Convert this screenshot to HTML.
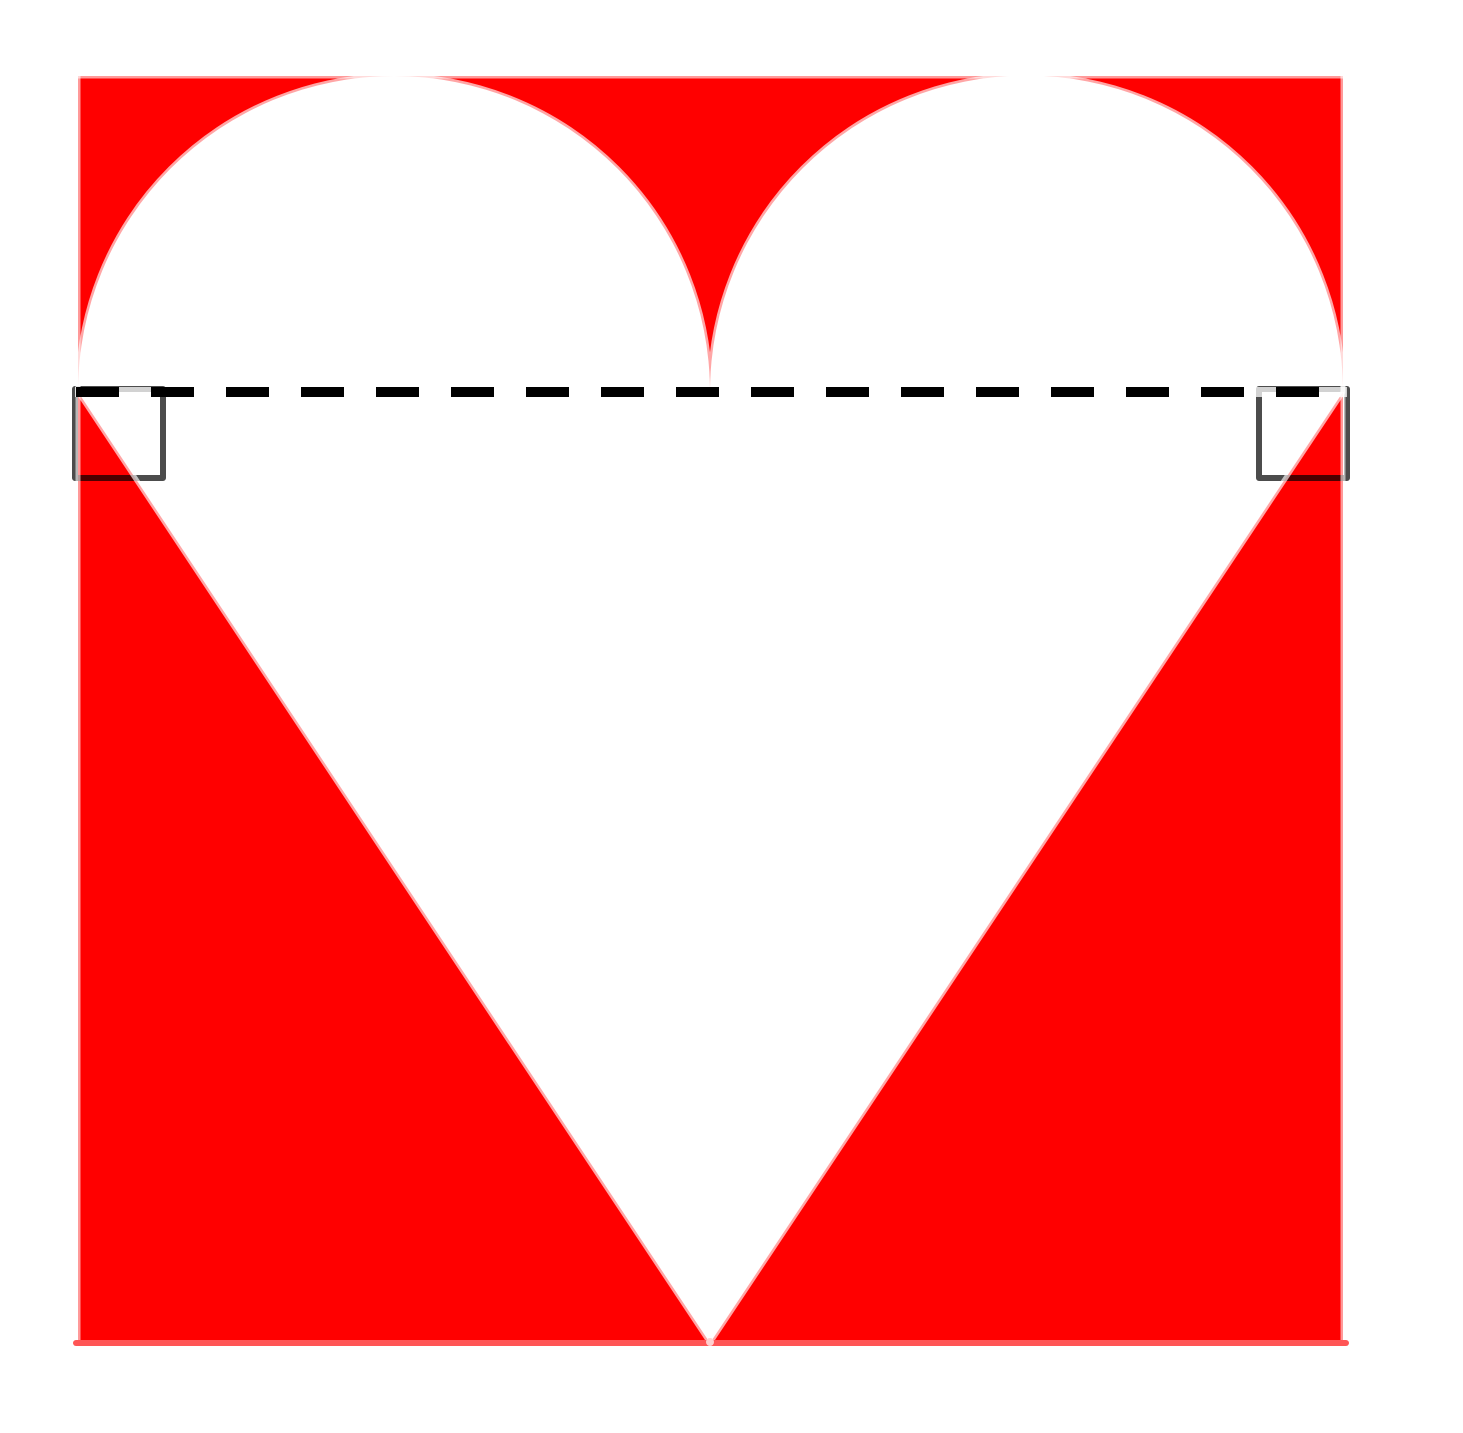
<!DOCTYPE html>
<html><head><meta charset="utf-8"><style>html,body{margin:0;padding:0;background:#fff}svg{display:block}</style></head>
<body>
<svg width="1463" height="1433" viewBox="0 0 1463 1433">
<rect x="78" y="76" width="1265" height="1267" fill="#ff0000"/>
<path d="M78,392 A316,316 0 0 1 710,392 A316,316 0 0 1 1343,392 L710,1343 Z" fill="#fff"/>
<rect x="75" y="389" width="88" height="89" fill="none" stroke="rgba(0,0,0,0.7)" stroke-width="6" stroke-linejoin="round"/>
<rect x="1259" y="389" width="88" height="89" fill="none" stroke="rgba(0,0,0,0.7)" stroke-width="6" stroke-linejoin="round"/>
<path d="M78,392 A316,316 0 0 1 710,392 A316,316 0 0 1 1343,392 L710,1343 Z" fill="none" stroke="rgba(255,255,255,0.65)" stroke-width="5"/>
<line x1="75" y1="392" x2="1347" y2="392" stroke="rgba(255,255,255,0.75)" stroke-width="10"/>
<line x1="78" y1="76" x2="1343" y2="76" stroke="rgba(255,255,255,0.6)" stroke-width="5"/>
<line x1="78" y1="76" x2="78" y2="1343" stroke="rgba(255,255,255,0.6)" stroke-width="5"/>
<line x1="1343" y1="76" x2="1343" y2="1343" stroke="rgba(255,255,255,0.6)" stroke-width="5"/>
<line x1="76" y1="1343" x2="1346" y2="1343" stroke="#ff5555" stroke-width="6" stroke-linecap="round"/>
<line x1="76" y1="392" x2="1347" y2="392" stroke="#000" stroke-width="10" stroke-dasharray="43 32"/>
<circle cx="710" cy="1342" r="4" fill="#ffd0d0"/>
</svg>
</body></html>
